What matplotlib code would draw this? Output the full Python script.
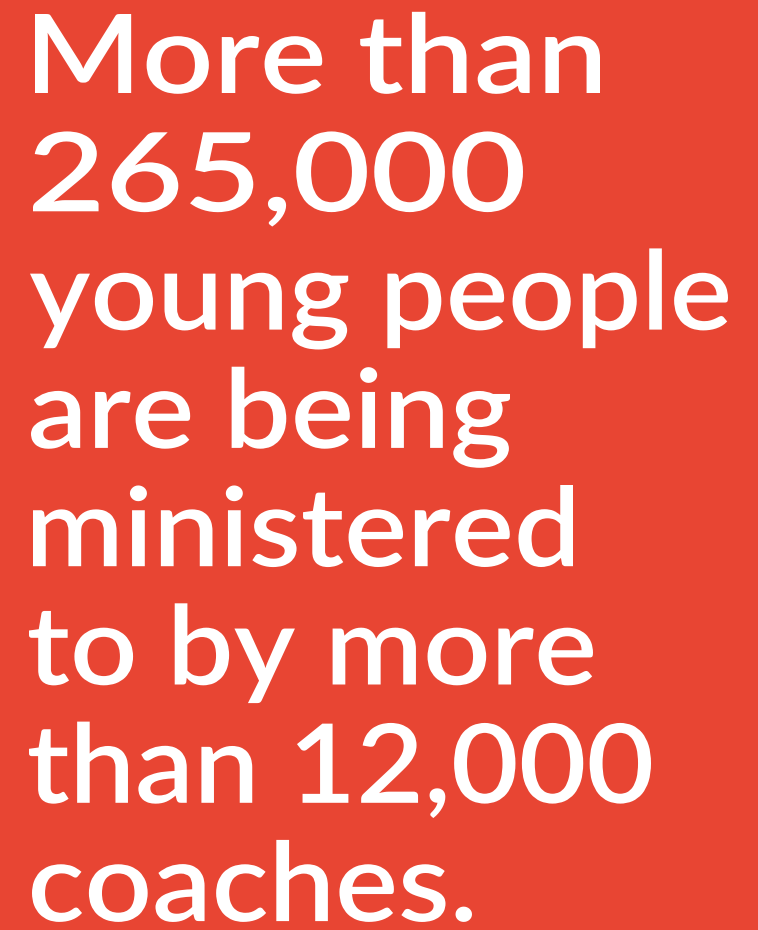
import matplotlib
matplotlib.use("Agg")
import matplotlib.pyplot as plt
from matplotlib.font_manager import FontProperties
from matplotlib.textpath import TextPath
from matplotlib.patheffects import AbstractPathEffect
from matplotlib.transforms import Affine2D

# ---- content ----
lines = ["More than", "265,000", "young people", "are being", "ministered",
         "to by more", "than 12,000", "coaches."]

# ---- layout (pixels, from top-left) ----
ink_left = [35, 33, 30, 31, 33, 29, 29, 32]
ink_right = [600, 523, 728, 510, 573, 593, 651, 472]
first_baseline = 93
line_step = 118.3
cap_height_px = 79

W, H, DPI = 758, 930, 100
bg = "#E84533"
fg = "#FFFFFF"
prop = FontProperties(family="Lato", weight="semibold")
k = DPI / 72.0


class HStretch(AbstractPathEffect):
    """Stretch the glyph outlines horizontally around a display x."""

    def __init__(self, sx, x0):
        super().__init__((0, 0))
        self.sx, self.x0 = sx, x0

    def draw_path(self, renderer, gc, tpath, affine, rgbFace=None):
        t = affine + Affine2D().translate(-self.x0, 0).scale(self.sx, 1).translate(self.x0, 0)
        renderer.draw_path(gc, tpath, t, rgbFace)


# font size so the cap height matches
m_ext = TextPath((0, 0), "M", size=100, prop=prop).get_extents()
fs = 100 * cap_height_px / (m_ext.height * k)

fig = plt.figure(figsize=(W / DPI, H / DPI), dpi=DPI, facecolor=bg)

for i, t in enumerate(lines):
    ext = TextPath((0, 0), t, size=fs, prop=prop).get_extents()
    x0, x1 = ext.x0 * k, ext.x1 * k
    L, R = ink_left[i], ink_right[i]
    sx = (R - L) / (x1 - x0)
    xo = L - x0
    y = first_baseline + i * line_step
    fig.text(xo / W, 1 - y / H, t, color=fg, fontproperties=prop, fontsize=fs,
             va="baseline", ha="left", path_effects=[HStretch(sx, L)])

fig.savefig("out.png", dpi=DPI, facecolor=bg)
